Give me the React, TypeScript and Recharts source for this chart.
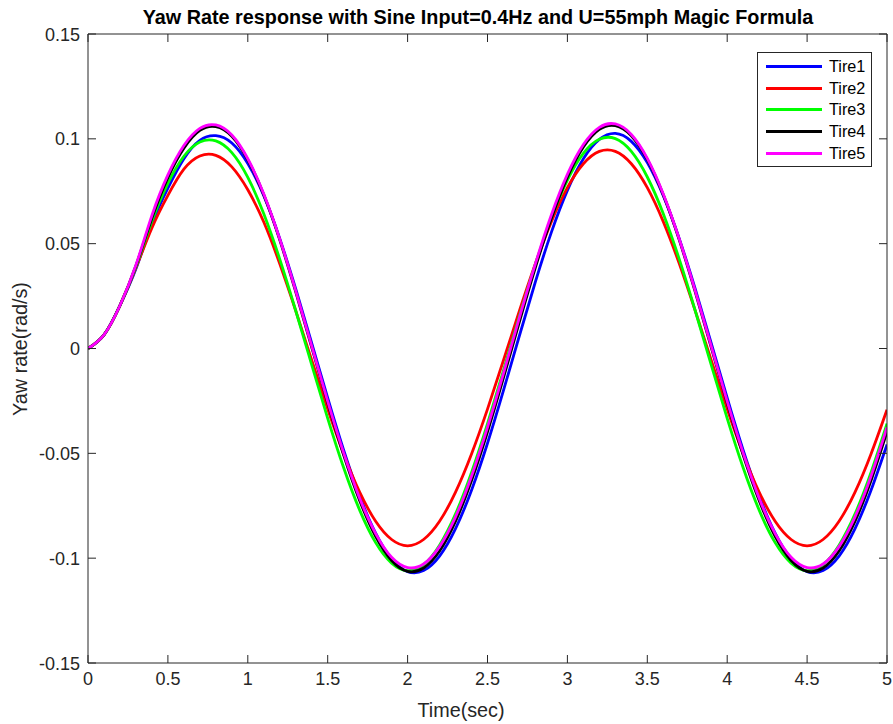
import { LineChart, Line, XAxis, YAxis, Legend } from "recharts";

// sample times (s)
const time = [
  0, 0.1, 0.2, 0.3, 0.4, 0.5, 0.6, 0.7, 0.8, 0.9, 1, 1.1, 1.2, 1.3, 1.4, 1.5, 1.6, 1.7, 1.8, 1.9, 2, 2.1, 2.2, 2.3,
  2.4, 2.5, 2.6, 2.7, 2.8, 2.9, 3, 3.1, 3.2, 3.3, 3.4, 3.5, 3.6, 3.7, 3.8, 3.9, 4, 4.1, 4.2, 4.3, 4.4, 4.5, 4.6,
  4.7, 4.8, 4.9, 5,
];

// yaw rate (rad/s)
const tire1 = [
  0, 0.0065, 0.0205, 0.038, 0.0595, 0.0765, 0.0905, 0.0993, 0.1015, 0.098, 0.0882, 0.0729, 0.0524, 0.0284, 0.0026,
  -0.0236, -0.0485, -0.0704, -0.0881, -0.1003, -0.1064, -0.1059, -0.099, -0.0859, -0.0676, -0.0452, -0.02, 0.0062,
  0.0319, 0.0555, 0.0754, 0.0905, 0.0997, 0.1026, 0.0988, 0.0887, 0.0729, 0.0524, 0.0284, 0.0026, -0.0236, -0.0485,
  -0.0704, -0.0881, -0.1003, -0.1064, -0.1059, -0.099, -0.0859, -0.0676, -0.0458,
];
const tire2 = [
  0, 0.0065, 0.0205, 0.0385, 0.0575, 0.073, 0.0855, 0.0918, 0.0921, 0.0866, 0.0757, 0.0603, 0.0404, 0.018, -0.0056,
  -0.0289, -0.0503, -0.0685, -0.0824, -0.0911, -0.0941, -0.0911, -0.0824, -0.0685, -0.0503, -0.0289, -0.0056, 0.018,
  0.0405, 0.0605, 0.0767, 0.0881, 0.094, 0.094, 0.0881, 0.0767, 0.0605, 0.0405, 0.018, -0.0056, -0.0289, -0.0503,
  -0.0685, -0.0824, -0.0911, -0.0941, -0.0911, -0.0824, -0.0685, -0.0503, -0.0292,
];
const tire3 = [
  0, 0.0065, 0.0205, 0.039, 0.0608, 0.0788, 0.0917, 0.0985, 0.099, 0.0934, 0.0816, 0.0643, 0.0426, 0.018, -0.0078,
  -0.0333, -0.0569, -0.0771, -0.0926, -0.1024, -0.106, -0.1031, -0.0938, -0.0789, -0.0591, -0.0358, -0.0104, 0.0155,
  0.0402, 0.0623, 0.0803, 0.0931, 0.0998, 0.1001, 0.094, 0.0818, 0.0643, 0.0426, 0.018, -0.0078, -0.0333, -0.0569,
  -0.0771, -0.0926, -0.1024, -0.106, -0.1031, -0.0938, -0.0789, -0.0591, -0.0358,
];
const tire4 = [
  0, 0.0065, 0.0205, 0.0395, 0.0622, 0.0815, 0.0955, 0.104, 0.1058, 0.1012, 0.09, 0.0733, 0.0518, 0.027, 0.0006,
  -0.0259, -0.0508, -0.0725, -0.0896, -0.1011, -0.1063, -0.1047, -0.0966, -0.0824, -0.063, -0.0397, -0.0139, 0.0128,
  0.0387, 0.0621, 0.0817, 0.0961, 0.1045, 0.1063, 0.1015, 0.0902, 0.0733, 0.0518, 0.027, 0.0006, -0.0259, -0.0508,
  -0.0725, -0.0896, -0.1011, -0.1063, -0.1047, -0.0966, -0.0824, -0.063, -0.0397,
];
const tire5 = [
  0, 0.0065, 0.0205, 0.0398, 0.0635, 0.0828, 0.0968, 0.105, 0.1066, 0.1018, 0.0905, 0.0737, 0.0522, 0.0275, 0.0011,
  -0.0252, -0.0499, -0.0714, -0.0883, -0.0996, -0.1045, -0.1028, -0.0945, -0.0803, -0.0609, -0.0376, -0.0118, 0.0148,
  0.0405, 0.0638, 0.0831, 0.0973, 0.1055, 0.1071, 0.1021, 0.0907, 0.0737, 0.0522, 0.0275, 0.0011, -0.0252, -0.0499,
  -0.0714, -0.0883, -0.0996, -0.1045, -0.1028, -0.0945, -0.0803, -0.0609, -0.0376,
];

const xTicks = [0, 0.5, 1, 1.5, 2, 2.5, 3, 3.5, 4, 4.5, 5];
const xTickLabels = ["0", "0.5", "1", "1.5", "2", "2.5", "3", "3.5", "4", "4.5", "5"];
const yTicks = [-0.15, -0.1, -0.05, 0, 0.05, 0.1, 0.15];
const yTickLabels = ["-0.15", "-0.1", "-0.05", "0", "0.05", "0.1", "0.15"];

const series = [
  { key: "tire1", name: "Tire1", color: "#0000ff" },
  { key: "tire2", name: "Tire2", color: "#ff0000" },
  { key: "tire3", name: "Tire3", color: "#00ff00" },
  { key: "tire4", name: "Tire4", color: "#000000" },
  { key: "tire5", name: "Tire5", color: "#ff00ff" },
];

const data = time.map((t, i) => ({
  t,
  tire1: tire1[i],
  tire2: tire2[i],
  tire3: tire3[i],
  tire4: tire4[i],
  tire5: tire5[i],
}));

const AXIS = "#262626";
const FONT = '"Liberation Sans", Arial, Helvetica, sans-serif';
const TICK = 8;

const xLabel = (v: number) => xTickLabels[xTicks.indexOf(v)] ?? String(v);
const yLabel = (v: number) => yTickLabels[yTicks.indexOf(v)] ?? String(v);

function BottomTick({ x, y, payload }: any) {
  return (
    <g>
      <line x1={x} x2={x} y1={y} y2={y - TICK} stroke={AXIS} />
      <text x={x} y={y + 22} textAnchor="middle" fontSize={18} fontFamily={FONT} fill={AXIS}>
        {xLabel(payload.value)}
      </text>
    </g>
  );
}

function TopTick({ x, y }: any) {
  return <line x1={x} x2={x} y1={y} y2={y + TICK} stroke={AXIS} />;
}

function LeftTick({ x, y, payload }: any) {
  return (
    <g>
      <line x1={x} x2={x + TICK} y1={y} y2={y} stroke={AXIS} />
      <text x={x - 8} y={y + 6.5} textAnchor="end" fontSize={18} fontFamily={FONT} fill={AXIS}>
        {yLabel(payload.value)}
      </text>
    </g>
  );
}

function RightTick({ x, y }: any) {
  return <line x1={x} x2={x - TICK} y1={y} y2={y} stroke={AXIS} />;
}

function LegendBox({ payload }: any) {
  const items = (payload || []).filter((p: any) => p.type !== "none");
  return (
    <div
      style={{
        width: 115,
        height: 115,
        boxSizing: "border-box",
        border: "1px solid #262626",
        background: "#fff",
        paddingTop: 3,
        fontFamily: FONT,
        fontSize: 16.2,
      }}
    >
      {items.map((p: any) => (
        <div key={p.value} style={{ display: "flex", alignItems: "center", height: 21.6 }}>
          <div style={{ marginLeft: 8, width: 56, height: 3, background: p.color }} />
          <span style={{ marginLeft: 7, color: "#000" }}>{p.value}</span>
        </div>
      ))}
    </div>
  );
}

export default function App() {
  return (
    <div style={{ position: "absolute", left: 0, top: 0, width: 893, height: 724, background: "#fff" }}>
      <LineChart width={893} height={724} data={data} margin={{ top: 33, right: 5, bottom: 0, left: 0 }}>
        <XAxis
          dataKey="t"
          type="number"
          domain={[0, 5]}
          ticks={xTicks}
          interval={0}
          height={61}
          tickSize={0}
          tickMargin={0}
          tickLine={false}
          axisLine={{ stroke: AXIS }}
          tick={<BottomTick />}
          allowDataOverflow
        />
        <XAxis
          xAxisId="top"
          orientation="top"
          dataKey="t"
          type="number"
          domain={[0, 5]}
          ticks={xTicks}
          interval={0}
          height={1}
          tickSize={0}
          tickMargin={0}
          tickLine={false}
          axisLine={{ stroke: AXIS }}
          tick={<TopTick />}
          allowDataOverflow
        />
        <YAxis
          type="number"
          domain={[-0.15, 0.15]}
          ticks={yTicks}
          interval={0}
          width={88}
          tickSize={0}
          tickMargin={0}
          tickLine={false}
          axisLine={{ stroke: AXIS }}
          tick={<LeftTick />}
          allowDataOverflow
        />
        <YAxis
          yAxisId="right"
          orientation="right"
          type="number"
          domain={[-0.15, 0.15]}
          ticks={yTicks}
          interval={0}
          width={1}
          tickSize={0}
          tickMargin={0}
          tickLine={false}
          axisLine={{ stroke: AXIS }}
          tick={<RightTick />}
          allowDataOverflow
        />
        <Legend
          layout="horizontal"
          verticalAlign="middle"
          align="center"
          wrapperStyle={{ left: 757, top: 52, width: 115, height: 115 }}
          content={<LegendBox />}
        />
        {/* invisible carrier so the top and right frame axes get a domain */}
        <Line
          xAxisId="top"
          yAxisId="right"
          dataKey="tire4"
          stroke="none"
          dot={false}
          activeDot={false}
          legendType="none"
          isAnimationActive={false}
        />
        {series.map((s) => (
          <Line
            key={s.key}
            dataKey={s.key}
            name={s.name}
            type="natural"
            stroke={s.color}
            strokeWidth={2.8}
            dot={false}
            activeDot={false}
            isAnimationActive={false}
          />
        ))}
      </LineChart>
      <svg
        width={893}
        height={724}
        style={{ position: "absolute", left: 0, top: 0, pointerEvents: "none" }}
      >
        <text x={478} y={24} textAnchor="middle" fontSize={19.8} fontWeight="bold" fontFamily={FONT} fill="#000">
          Yaw Rate response with Sine Input=0.4Hz and U=55mph Magic Formula
        </text>
        <text x={461} y={717} textAnchor="middle" fontSize={19.8} fontFamily={FONT} fill={AXIS}>
          Time(sec)
        </text>
        <text
          x={27}
          y={349}
          textAnchor="middle"
          fontSize={19.8}
          fontFamily={FONT}
          fill={AXIS}
          transform="rotate(-90, 27, 349)"
        >
          Yaw rate(rad/s)
        </text>
      </svg>
    </div>
  );
}
